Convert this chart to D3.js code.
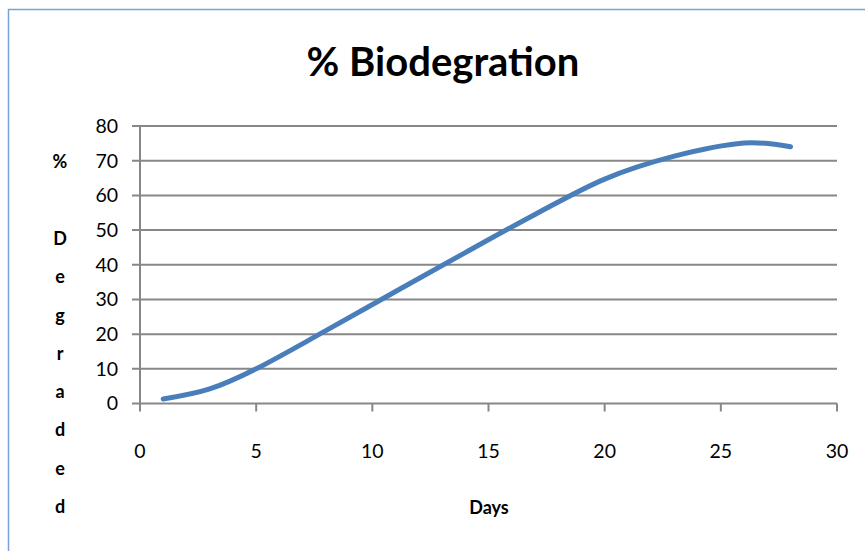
<!DOCTYPE html>
<html>
<head>
<meta charset="utf-8">
<script src="https://cdn.jsdelivr.net/npm/d3@7"></script>
<style>
  body { margin: 0; background: #fff; }
  svg { display: block; }
</style>
</head>
<body>
<svg id="chart" width="865" height="551"></svg>
<script>
// chart data
const days = [1, 3, 5, 8, 11, 14, 17, 20, 23, 26, 28];
const degraded = [1.3, 4.2, 10, 21, 32.3, 43.5, 54.5, 64.7, 71.3, 75.1, 74.0];
const xTicks = [0, 5, 10, 15, 20, 25, 30];
const yTicks = [0, 10, 20, 30, 40, 50, 60, 70, 80];
const yLabel = ['%', '', 'D', 'e', 'g', 'r', 'a', 'd', 'e', 'd'];

const svg = d3.select('#chart');
const font = 'Lato, "Open Sans", sans-serif';

// outer frame (only left and top edges are visible in the picture)
svg.append('path')
    .attr('d', 'M8.5,551 L8.5,9.5 L865,9.5')
    .attr('fill', 'none')
    .attr('stroke', '#7aa2d6')
    .attr('stroke-width', 1.5);

const x = d3.scaleLinear().domain([0, 30]).range([140, 837]);
const y = d3.scaleLinear().domain([0, 80]).range([403.5, 126]);

// gridlines
svg.append('g')
    .selectAll('line')
    .data(yTicks)
    .join('line')
    .attr('x1', 132)
    .attr('x2', x(30))
    .attr('y1', d => y(d))
    .attr('y2', d => y(d))
    .attr('stroke', '#878787')
    .attr('stroke-width', 2);

// y axis line
svg.append('line')
    .attr('x1', x(0)).attr('x2', x(0))
    .attr('y1', y(80)).attr('y2', y(0))
    .attr('stroke', '#878787')
    .attr('stroke-width', 2);

// x ticks
svg.append('g')
    .selectAll('line')
    .data(xTicks)
    .join('line')
    .attr('x1', d => x(d))
    .attr('x2', d => x(d))
    .attr('y1', y(0))
    .attr('y2', y(0) + 8)
    .attr('stroke', '#878787')
    .attr('stroke-width', 2);

// tick labels
svg.append('g')
    .selectAll('text')
    .data(yTicks)
    .join('text')
    .attr('x', 118)
    .attr('y', d => y(d))
    .attr('dy', '0.35em')
    .attr('text-anchor', 'end')
    .attr('font-family', font)
    .attr('font-size', '19.5px')
    .attr('fill', '#000')
    .text(d => d);

svg.append('g')
    .selectAll('text')
    .data(xTicks)
    .join('text')
    .attr('x', d => x(d))
    .attr('y', 458)
    .attr('text-anchor', 'middle')
    .attr('font-family', font)
    .attr('font-size', '19.5px')
    .attr('fill', '#000')
    .text(d => d);

// data line
const line = d3.line()
    .x((d, i) => x(days[i]))
    .y(d => y(d))
    .curve(d3.curveCatmullRom.alpha(0));

svg.append('path')
    .datum(degraded)
    .attr('d', line)
    .attr('fill', 'none')
    .attr('stroke', '#4a7ebb')
    .attr('stroke-width', 5)
    .attr('stroke-linecap', 'round');

// title
svg.append('text')
    .attr('x', 443)
    .attr('y', 76)
    .attr('text-anchor', 'middle')
    .attr('font-family', font)
    .attr('font-weight', 'bold')
    .attr('font-size', '40px')
    .attr('fill', '#000')
    .text('% Biodegration');

// axis titles
svg.append('text')
    .attr('x', 489)
    .attr('y', 514)
    .attr('text-anchor', 'middle')
    .attr('font-family', font)
    .attr('font-weight', 'bold')
    .attr('font-size', '18px')
    .attr('fill', '#000')
    .text('Days');

svg.append('g')
    .selectAll('text')
    .data(yLabel)
    .join('text')
    .attr('x', 60)
    .attr('y', (d, i) => 162 + i * 38.3)
    .attr('dy', '0.35em')
    .attr('text-anchor', 'middle')
    .attr('font-family', font)
    .attr('font-weight', 'bold')
    .attr('font-size', '18px')
    .attr('fill', '#000')
    .text(d => d);
</script>
</body>
</html>
